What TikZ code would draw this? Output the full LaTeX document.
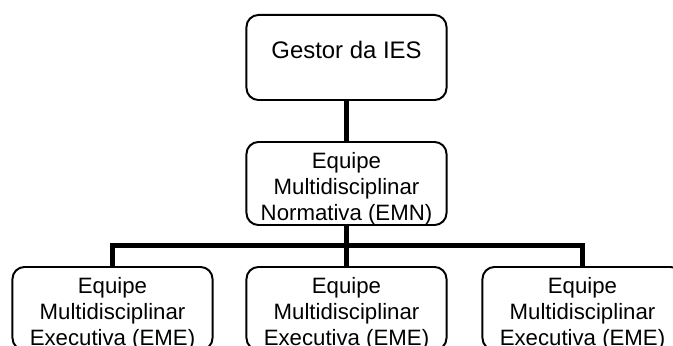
\documentclass[tikz,border=0pt]{standalone}
\usepackage{fontspec}
\setmainfont{Liberation Sans}
\newcommand{\topstrut}{\rule{0pt}{0.65cm}}
\begin{document}
\begin{tikzpicture}[x=0.025cm,y=-0.025cm,
  box/.style={draw,line width=1.4pt,rounded corners=0.3cm,minimum width=5cm,
    minimum height=2.075cm,align=center,inner sep=0pt,
    font=\fontsize{15.8}{18.5}\selectfont},
  link/.style={line width=0.125cm}]

\useasboundingbox (0,0) rectangle (673,346);
\clip (0,0) rectangle (673,346);

\node[box,minimum height=2.125cm,text height=0.4375cm,text depth=0.375cm,
  font=\fontsize{17}{20}\selectfont] (gestor) at (346.5,57.5) {Gestor da IES};
\node[box] (emn) at (346.5,183.5) {\topstrut Equipe\\Multidisciplinar\\Normativa (EMN)};

\node[box] (eme1) at (112.5,308.5) {\topstrut Equipe\\Multidisciplinar\\Executiva (EME)};
\node[box] (eme2) at (346.5,308.5) {\topstrut Equipe\\Multidisciplinar\\Executiva (EME)};
\node[box] (eme3) at (582.5,308.5) {\topstrut Equipe\\Multidisciplinar\\Executiva (EME)};

\coordinate (bus) at (346.5,246);

\draw[link] (gestor) -- (emn);
\draw[link] (emn) -- (eme2);
\draw[link] (bus) -| (eme1);
\draw[link] (bus) -| (eme3);

\end{tikzpicture}
\end{document}
